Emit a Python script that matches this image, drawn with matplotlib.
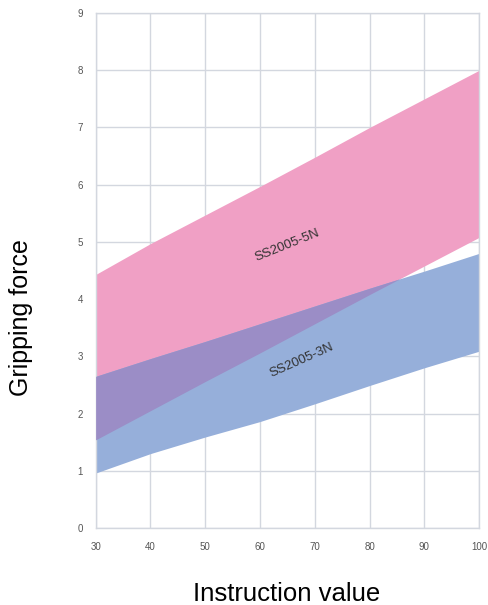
import numpy as np
import matplotlib.pyplot as plt

# instruction value (x) and gripping force band limits
instruction = [30, 40, 50, 60, 70, 80, 90, 100]
n5_upper = [4.43, 4.97, 5.47, 5.97, 6.48, 7.00, 7.50, 8.00]
n5_lower = [1.54, 2.05, 2.56, 3.06, 3.57, 4.08, 4.58, 5.08]
n3_upper = [2.65, 2.96, 3.26, 3.57, 3.88, 4.19, 4.49, 4.80]
n3_lower = [0.96, 1.30, 1.59, 1.86, 2.17, 2.49, 2.80, 3.09]

x_ticks = [30, 40, 50, 60, 70, 80, 90, 100]
y_ticks = [0, 1, 2, 3, 4, 5, 6, 7, 8, 9]

plt.rcParams['font.family'] = ['Liberation Sans', 'DejaVu Sans']

fig = plt.figure(figsize=(4.88, 6.05), dpi=100)
ax = fig.add_axes([0.196, 0.1273, 0.786, 0.8512])

x = np.array(instruction)
p_hi, p_lo = np.array(n5_upper), np.array(n5_lower)
b_hi, b_lo = np.array(n3_upper), np.array(n3_lower)

ax.fill_between(x, p_lo, p_hi, color='#f0a0c5', lw=0, zorder=2)
ax.fill_between(x, b_lo, b_hi, color='#96afda', lw=0, zorder=2)
# where the two bands overlap
ov_lo = np.maximum(p_lo, b_lo)
ov_hi = np.minimum(p_hi, b_hi)
ax.fill_between(x, ov_lo, ov_hi, where=ov_hi > ov_lo, interpolate=True,
                color='#9b8dc6', lw=0, zorder=3)

ax.text(64.9, 4.94, 'SS2005-5N', rotation=22, ha='center', va='center',
        fontsize=9.5, color='#333333', zorder=5)
ax.text(67.6, 2.93, 'SS2005-3N', rotation=24, ha='center', va='center',
        fontsize=9.5, color='#333333', zorder=5)

ax.set_xlim(30, 100)
ax.set_ylim(0, 9)
ax.set_xticks(x_ticks)
ax.set_yticks(y_ticks)
ax.tick_params(length=0, labelsize=7, labelcolor='#555555')
ax.tick_params(axis='x', pad=10)
ax.tick_params(axis='y', pad=9)
ax.grid(True, color='#d3d7df', lw=1, zorder=1)
ax.set_axisbelow(True)
for s in ax.spines.values():
    s.set_color('#d3d7df')
    s.set_linewidth(1)

fig.text(0.588, 0.007, 'Instruction value', ha='center', va='baseline',
         fontsize=18.5)
fig.text(0.043, 0.475, 'Gripping force', ha='center', va='center',
         rotation=90, fontsize=18)

fig.savefig('out.png', dpi=100)
